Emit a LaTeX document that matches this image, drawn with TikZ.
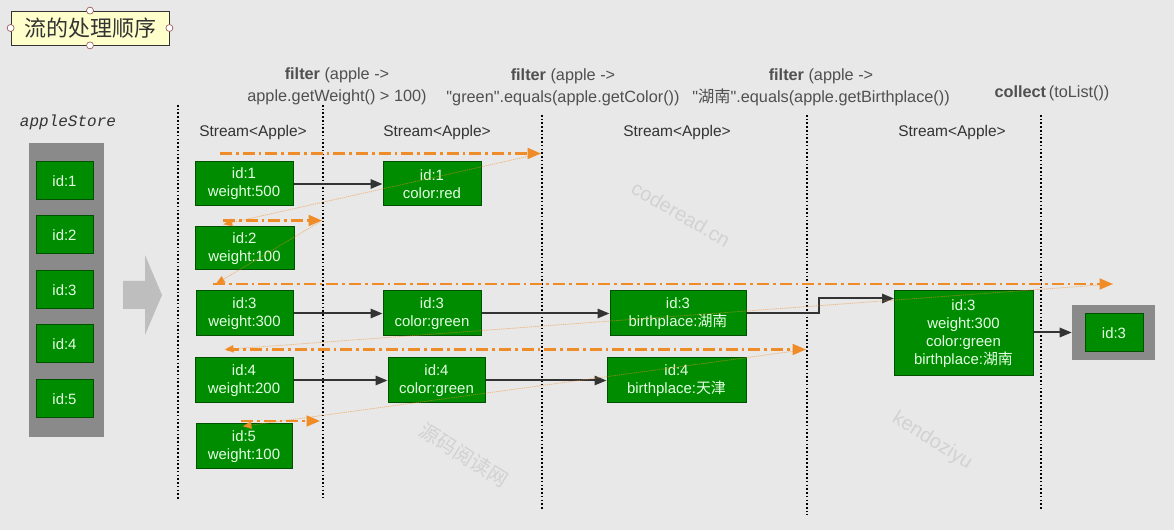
\documentclass[tikz,border=0pt]{standalone}
\usepackage{fontspec}
\setmainfont{Liberation Sans}[Ligatures=TeXOff]
\setmonofont{Liberation Mono}
\newfontfamily\cjk{Noto Sans CJK SC}
\usetikzlibrary{arrows.meta}
\definecolor{bg}{RGB}{232,232,232}
\definecolor{gfill}{RGB}{0,140,0}
\definecolor{gdraw}{RGB}{0,80,0}
\definecolor{gtext}{RGB}{228,255,228}
\definecolor{orng}{RGB}{240,140,40}
\definecolor{boxgray}{RGB}{138,138,138}
\definecolor{arrowgray}{RGB}{190,190,190}
\definecolor{hdrc}{RGB}{80,80,80}
\definecolor{wm}{RGB}{210,210,210}
\definecolor{dark}{RGB}{51,51,51}
\definecolor{titlefill}{RGB}{255,255,204}
\definecolor{handle}{RGB}{150,90,90}
\begin{document}
\begin{tikzpicture}[x=0.75pt,y=-0.75pt,
  gsz/.style 2 args={minimum width=#1*0.75pt, minimum height=#2*0.75pt},
  gbox/.style={draw=gdraw, fill=gfill, text=gtext, font=\fontsize{11.2}{13.4}\selectfont, align=center, inner sep=0pt, line width=0.75pt},
  conn/.style={draw=dark, line width=1.5pt, -{Triangle[length=9pt,width=7pt]}},
  flow/.style={draw=orng, line width=1.9pt, dash pattern=on 9pt off 3pt on 2pt off 3pt, -{Triangle[length=10pt,width=8pt]}},
  ret/.style={draw=orng, draw opacity=0.5, line width=0.6pt, dash pattern=on 1pt off 0.6pt, -{Triangle[length=7pt,width=6pt]}},
  vsep/.style={draw=black, line width=1.2pt, dash pattern=on 1.2pt off 1.6pt},
  hdr/.style={text=hdrc, font=\fontsize{12.2}{16.5}\selectfont, align=center, inner sep=0pt},
  stream/.style={text=dark, font=\fontsize{11.6}{13}\selectfont, inner sep=0pt},
  wmark/.style={text=wm, font=\fontsize{15}{18}\selectfont},
]
\fill[bg] (0,0) rectangle (1174,530);
\useasboundingbox (0,0) rectangle (1174,530);

% watermarks
\node[wmark, rotate=-30] (wm1) at (681,214) {coderead.cn};
\node[wmark, rotate=-32, font=\fontsize{15}{18}\cjk] (wm2) at (464,455) {源码阅读网};
\node[wmark, rotate=-32] (wm3) at (932,441) {kendoziyu};

% title
\node[draw=dark, fill=titlefill, line width=0.6pt, gsz={158}{34}, inner sep=0pt, text=dark, font=\fontsize{16.5}{18}\cjk] (title) at (90,28) {流的处理顺序};
\foreach \a in {north,south,east,west}
  \draw[handle, fill=white, line width=0.5pt] (title.\a) circle (3.5);

% headers
\node[hdr] (h1) at (337,86) {\textbf{filter} (apple ->\\apple.getWeight() > 100)};
\node[hdr] (h2) at (563,87) {\textbf{filter} (apple ->\\"green".equals(apple.getColor())};
\node[hdr] (h3) at (821,87) {\textbf{filter} (apple ->\\"{\cjk 湖南}".equals(apple.getBirthplace())};
\node[hdr] (h4) at (1052,93) {\textbf{collect}\,(toList())};

\node[text=dark, font=\fontsize{12}{14}\ttfamily\itshape] (store) at (68,122) {appleStore};
\node[stream] (s1) at (253,133) {Stream<Apple>};
\node[stream] (s2) at (437,133) {Stream<Apple>};
\node[stream] (s3) at (677,133) {Stream<Apple>};
\node[stream] (s4) at (952,133) {Stream<Apple>};

% vertical separators
\draw[vsep] (178,105) -- (178,500);
\draw[vsep] (323,105) -- (323,498);
\draw[vsep] (542,115) -- (542,510);
\draw[vsep] (807,115) -- (807,515);
\draw[vsep] (1041,115) -- (1041,510);

% apple store
\node[fill=boxgray, gsz={75}{294}, inner sep=0pt] (storebox) at (66.5,290) {};
\foreach \i/\y in {1/181,2/235,3/290,4/344,5/399}
  \node[gbox, gsz={57}{38}] (st\i) at (64.5,\y) {id:\i};

% big arrow
\fill[arrowgray] (123,281) -- (145,281) -- (145,255) -- (162,295) -- (145,335) -- (145,309) -- (123,309) -- cycle;

% column A
\node[gbox, gsz={98}{44}] (a1) at (244,184) {id:1\\weight:500};
\node[gbox, gsz={99}{43}] (a2) at (244.5,248.5) {id:2\\weight:100};
\node[gbox, gsz={97}{45}] (a3) at (244.5,313.5) {id:3\\weight:300};
\node[gbox, gsz={98}{45}] (a4) at (244,380.5) {id:4\\weight:200};
\node[gbox, gsz={96}{45}] (a5) at (244,446.5) {id:5\\weight:100};
% column B
\node[gbox, gsz={98}{44}] (b1) at (432,184) {id:1\\color:red};
\node[gbox, gsz={98}{45}] (b3) at (432,313.5) {id:3\\color:green};
\node[gbox, gsz={97}{45}] (b4) at (436.5,380.5) {id:4\\color:green};
% column C
\node[gbox, gsz={136}{45}] (c3) at (678,313.5) {id:3\\birthplace:{\cjk 湖南}};
\node[gbox, gsz={139}{45}] (c4) at (676.5,380.5) {id:4\\birthplace:{\cjk 天津}};
% column D
\node[gbox, gsz={139}{85}] (d3) at (963.5,333.5) {id:3\\weight:300\\color:green\\birthplace:{\cjk 湖南}};
% result
\node[fill=boxgray, gsz={83}{55}, inner sep=0pt] (res) at (1113.5,332.5) {};
\node[gbox, gsz={58}{38}] (r3) at (1114,333) {id:3};

% connectors
\draw[conn] (a1.east) -- (b1.west);
\draw[conn] (a3.east) -- (b3.west);
\draw[conn] (b3.east) -- (c3.west);
\coordinate (dIn) at (894,298.5);
\draw[conn] (c3.east) -- (819,313.5) -- (819,298.5) -- (dIn);
\draw[conn] (a4.east) -- (b4.west);
\draw[conn] (b4.east) -- (c4.west);
\draw[conn] (d3.east |- res.west) -- (res.west);

% orange flow
\coordinate (f1s) at (220,153.5);  \coordinate (f1e) at (541,153.5);
\coordinate (f2s) at (223,220.5);  \coordinate (f2e) at (322,220.5);
\coordinate (f3s) at (213,284);  \coordinate (f3e) at (1113,284);
\coordinate (f4s) at (227,349.5);  \coordinate (f4e) at (806,349.5);
\coordinate (f5s) at (241,421);  \coordinate (f5e) at (320,421);
\draw[flow] (f1s) -- (f1e);
\draw[flow] (f2s) -- (f2e);
\draw[flow] (f3s) -- (f3e);
\draw[flow] (f4s) -- (f4e);
\draw[flow] (f5s) -- (f5e);
\draw[ret] (f1e) -- ([yshift=-3]f2s);
\draw[ret] (f2e) -- ([xshift=2]f3s);
\draw[ret] (f3e) -- ([xshift=-2]f4s);
\draw[ret] (f4e) -- ([xshift=1,yshift=-4]f5s);
\end{tikzpicture}
\end{document}
